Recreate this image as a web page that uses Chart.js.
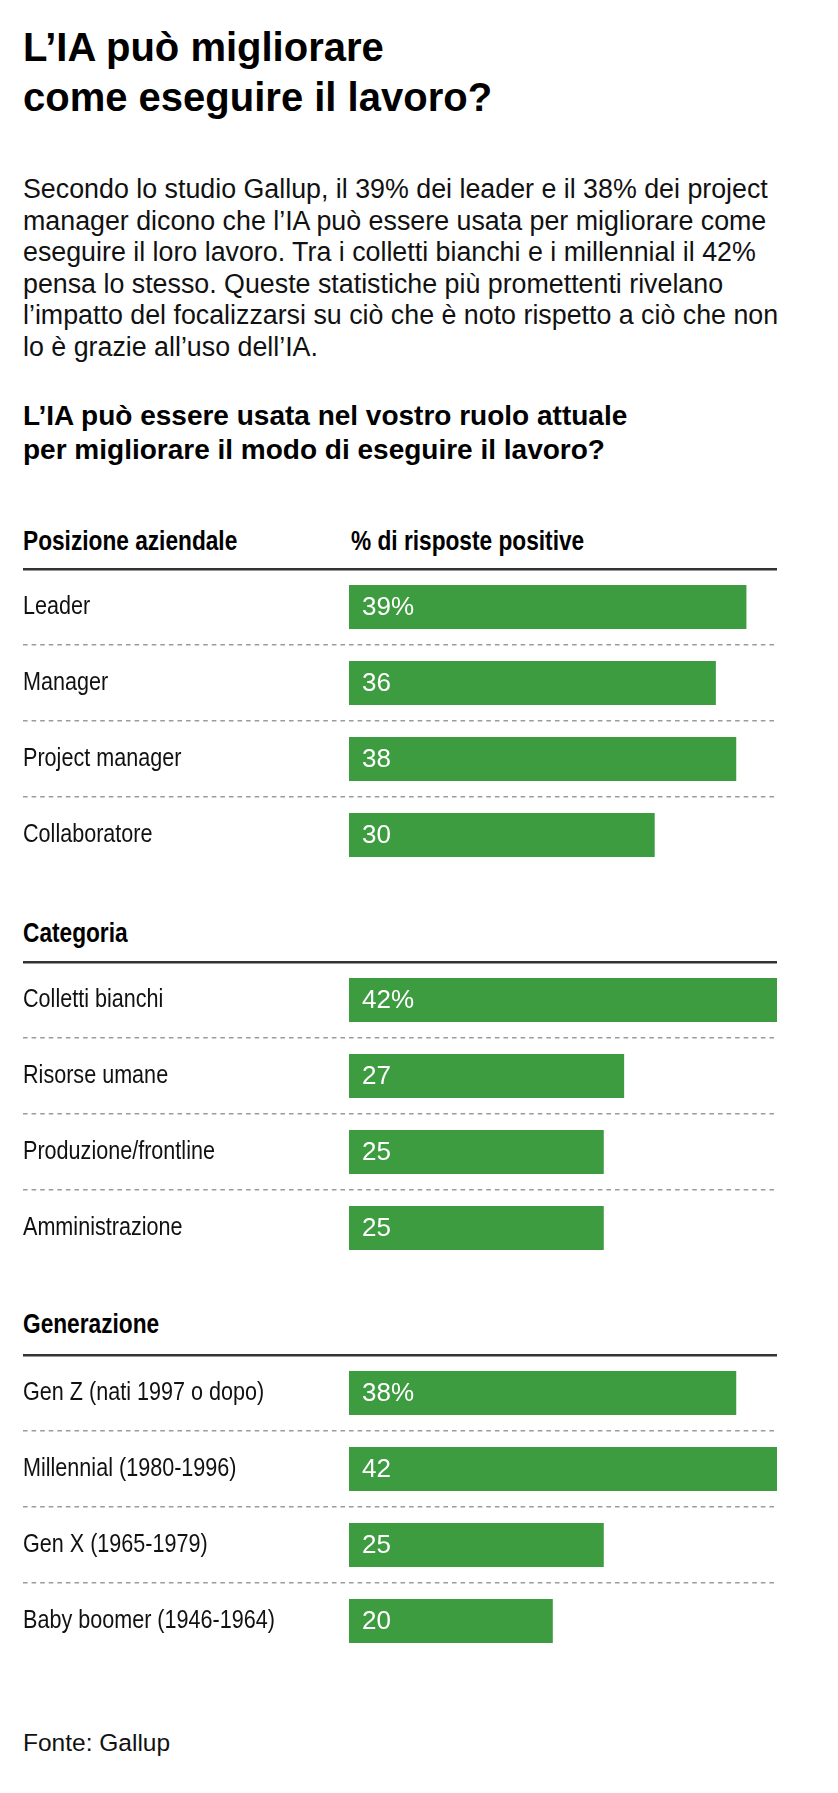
<!DOCTYPE html>
<html lang="it">
<head>
<meta charset="utf-8">
<script src="https://cdn.jsdelivr.net/npm/chart.js@4"></script>
<style>
  html, body { margin: 0; padding: 0; background: #fff; }
  #page { position: relative; width: 838px; height: 1793px; overflow: hidden; background: #fff; color: #111; }
  .t { position: absolute; left: 23px; white-space: nowrap; }
  #title { top: 22px; font: bold 40px/50px "Liberation Sans", Arial, sans-serif; color: #000; }
  #para { top: 174px; font: 26.8px/31.5px "Liberation Sans", Arial, sans-serif; color: #111; }
  #sub { top: 399px; font: bold 28px/34px "Liberation Sans", Arial, sans-serif; color: #000; }
  .hdr { font: bold 27px/30px "Liberation Sans", Arial, sans-serif; color: #000; transform: scaleX(0.84); transform-origin: 0 0; }
  #src { top: 1728px; font: 24.5px/30px "Liberation Sans", Arial, sans-serif; color: #111; }
  canvas.c { position: absolute; left: 23px; }
</style>
</head>
<body>
<div id="page">
  <div id="title" class="t">L’IA può migliorare<br>come eseguire il lavoro?</div>
  <div id="para" class="t">Secondo lo studio Gallup, il 39% dei leader e il 38% dei project<br>manager dicono che l’IA può essere usata per migliorare come<br>eseguire il loro lavoro. Tra i colletti bianchi e i millennial il 42%<br>pensa lo stesso. Queste statistiche più promettenti rivelano<br>l’impatto del focalizzarsi su ciò che è noto rispetto a ciò che non<br>lo è grazie all’uso dell’IA.</div>
  <div id="sub" class="t">L’IA può essere usata nel vostro ruolo attuale<br>per migliorare il modo di eseguire il lavoro?</div>
  <div id="h1" class="t hdr" style="top:526px"></div>
  <div id="h1b" class="t hdr" style="top:526px;left:351px"></div>
  <div id="h2" class="t hdr" style="top:918px"></div>
  <div id="h3" class="t hdr" style="top:1309px"></div>
  <canvas id="c1" class="c" width="760" height="308" style="top:567px"></canvas>
  <canvas id="c2" class="c" width="760" height="308" style="top:960px"></canvas>
  <canvas id="c3" class="c" width="760" height="308" style="top:1353px"></canvas>
  <div id="src" class="t">Fonte: Gallup</div>
</div>
<script>
// ---- Data ----
const sectionTitles = ['Posizione aziendale', 'Categoria', 'Generazione'];
const valueHeader = '% di risposte positive';

const positionLabels = ['Leader', 'Manager', 'Project manager', 'Collaboratore'];
const positionValues = [39, 36, 38, 30];

const categoryLabels = ['Colletti bianchi', 'Risorse umane', 'Produzione/frontline', 'Amministrazione'];
const categoryValues = [42, 27, 25, 25];

const generationLabels = ['Gen Z (nati 1997 o dopo)', 'Millennial (1980-1996)', 'Gen X (1965-1979)', 'Baby boomer (1946-1964)'];
const generationValues = [38, 42, 25, 20];

const axisMin = 0;
const axisMax = 42;

// ---- Headers ----
document.getElementById('h1').textContent = sectionTitles[0];
document.getElementById('h1b').textContent = valueHeader;
document.getElementById('h2').textContent = sectionTitles[1];
document.getElementById('h3').textContent = sectionTitles[2];

// ---- Styling ----
const GREEN = '#3d9b40';
const HEADER_LINE = '#333333';
const DASH_LINE = '#9c9c9c';
const DASH = [4.6, 3.98];
const LABEL_AREA = 326;
const LABEL_CONDENSE = 0.83;

const valueLabelPlugin = {
  id: 'valueLabels',
  afterDatasetsDraw(chart) {
    const ctx = chart.ctx;
    const meta = chart.getDatasetMeta(0);
    const data = chart.data.datasets[0].data;
    ctx.save();
    ctx.fillStyle = '#ffffff';
    ctx.font = '26px "Liberation Sans", Arial, sans-serif';
    ctx.textAlign = 'left';
    ctx.textBaseline = 'middle';
    meta.data.forEach((bar, i) => {
      const txt = data[i] + (i === 0 ? '%' : '');
      ctx.fillText(txt, bar.base + 13, bar.y + 1);
    });
    ctx.restore();
  }
};

// Renders the y-axis tick labels (drawn by Chart.js) in a condensed width
const condensedLabelsPlugin = {
  id: 'condensedLabels',
  beforeDraw(chart) {
    const s = chart.scales.y;
    if (s && !s.__condensed) {
      const orig = s.drawLabels;
      s.drawLabels = function (area) {
        const ctx = this.ctx;
        ctx.save();
        ctx.translate(this.left, 0);
        ctx.scale(LABEL_CONDENSE, 1);
        ctx.translate(-this.left, 0);
        orig.call(this, area);
        ctx.restore();
      };
      s.__condensed = true;
    }
  }
};

function lineColor(c) {
  if (c.index === 0) return HEADER_LINE;
  if (c.index === undefined) return 'rgba(0,0,0,0)';
  return DASH_LINE;
}
function lineWidth(c) { return c.index === 0 ? 2.5 : 1.5; }
function lineDash(c) { return c.index === 0 ? [] : DASH; }

function makeChart(id, labels, values) {
  return new Chart(document.getElementById(id), {
    type: 'bar',
    data: {
      labels: labels,
      datasets: [{
        data: values,
        backgroundColor: GREEN,
        borderWidth: 0,
        categoryPercentage: 1,
        barPercentage: 44 / 76
      }]
    },
    options: {
      indexAxis: 'y',
      responsive: false,
      animation: false,
      events: [],
      layout: { padding: { top: 2, bottom: 2, left: 0, right: 6 } },
      plugins: { legend: { display: false }, tooltip: { enabled: false }, title: { display: false } },
      scales: {
        x: { display: false, min: axisMin, max: axisMax },
        y: {
          display: true,
          offset: true,
          afterFit: (s) => { s.width = LABEL_AREA; s.paddingTop = 0; s.paddingBottom = 0; },
          border: { display: false, dash: lineDash },
          grid: {
            offset: true,
            drawOnChartArea: true,
            drawTicks: true,
            tickLength: LABEL_AREA,
            color: lineColor,
            lineWidth: lineWidth,
            tickColor: lineColor,
            tickWidth: lineWidth,
            tickBorderDash: lineDash
          },
          ticks: {
            crossAlign: 'far',
            padding: 0,
            color: '#111111',
            font: { family: '"Liberation Sans", Arial, sans-serif', size: 26 }
          }
        }
      }
    },
    plugins: [valueLabelPlugin, condensedLabelsPlugin]
  });
}

makeChart('c1', positionLabels, positionValues);
makeChart('c2', categoryLabels, categoryValues);
makeChart('c3', generationLabels, generationValues);
</script>
</body>
</html>
